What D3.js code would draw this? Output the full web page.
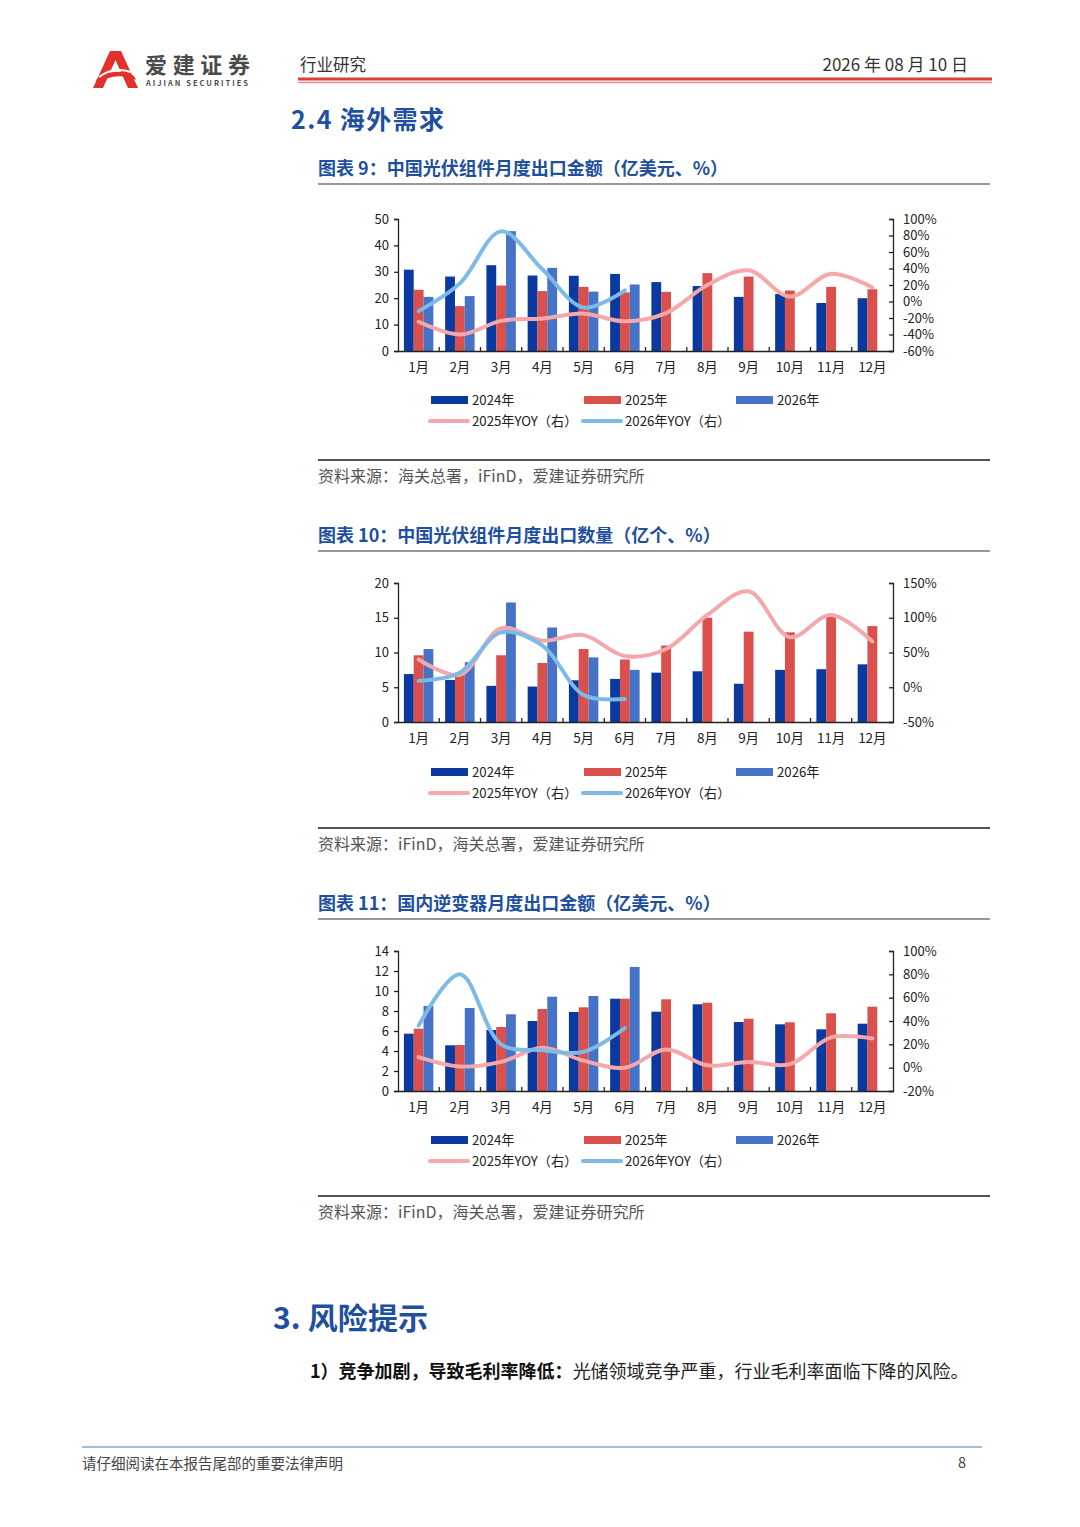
<!DOCTYPE html>
<html><head><meta charset="utf-8">
<script src="https://cdn.jsdelivr.net/npm/d3@7/dist/d3.min.js"></script>
<style>
html,body{margin:0;padding:0;background:#fff;}
svg{display:block;font-family:"Noto Sans CJK SC","Noto Sans",sans-serif;}
</style></head>
<body>
<svg id="page" width="1080" height="1527"></svg>
<script>
// ---------- DATA ----------
const months = ["1月","2月","3月","4月","5月","6月","7月","8月","9月","10月","11月","12月"];
const seriesNames = ["2024年","2025年","2026年"];
const lineNames = ["2025年YOY（右）","2026年YOY（右）"];

// Chart 9: module export value (亿美元)
const c9_2024 = [30.8, 28.2, 32.5, 28.6, 28.5, 29.2, 26.1, 24.6, 20.5, 21.6, 18.2, 20.0];
const c9_2025 = [23.2, 17.0, 24.8, 22.7, 24.3, 22.2, 22.4, 29.5, 28.2, 22.9, 24.3, 23.4];
const c9_2026 = [20.5, 20.8, 45.4, 31.5, 22.5, 25.2];
const c9_yoy25 = [-0.245, -0.40, -0.235, -0.205, -0.147, -0.24, -0.14, 0.20, 0.378, 0.06, 0.335, 0.17];
const c9_yoy26 = [-0.115, 0.22, 0.85, 0.39, -0.074, 0.135];
const c9_left = [0, 10, 20, 30, 40, 50];
const c9_right = [-0.6, -0.4, -0.2, 0, 0.2, 0.4, 0.6, 0.8, 1.0];

// Chart 10: module export quantity (亿个)
const c10_2024 = [6.9, 6.05, 5.2, 5.1, 6.0, 6.2, 7.1, 7.3, 5.5, 7.5, 7.6, 8.3];
const c10_2025 = [9.6, 7.1, 9.6, 8.5, 10.5, 9.0, 11.0, 15.0, 13.0, 12.9, 15.5, 13.8];
const c10_2026 = [10.5, 8.6, 17.2, 13.6, 9.3, 7.5];
const c10_yoy25 = [0.40, 0.18, 0.85, 0.67, 0.75, 0.45, 0.55, 1.04, 1.38, 0.72, 1.04, 0.66];
const c10_yoy26 = [0.09, 0.21, 0.79, 0.60, -0.11, -0.17];
const c10_left = [0, 5, 10, 15, 20];
const c10_right = [-0.5, 0, 0.5, 1.0, 1.5];

// Chart 11: inverter export value (亿美元)
const c11_2024 = [5.73, 4.57, 6.1, 7.0, 7.9, 9.23, 7.93, 8.67, 6.9, 6.67, 6.17, 6.73];
const c11_2025 = [6.23, 4.6, 6.4, 8.2, 8.37, 9.23, 9.17, 8.83, 7.23, 6.87, 7.77, 8.43];
const c11_2026 = [8.5, 8.3, 7.67, 9.43, 9.5, 12.4];
const c11_yoy25 = [0.09, 0.01, 0.05, 0.17, 0.06, 0.0, 0.156, 0.02, 0.048, 0.03, 0.26, 0.25];
const c11_yoy26 = [0.36, 0.80, 0.20, 0.15, 0.135, 0.34];
const c11_left = [0, 2, 4, 6, 8, 10, 12, 14];
const c11_right = [-0.2, 0, 0.2, 0.4, 0.6, 0.8, 1.0];

// ---------- STYLE ----------
const COL = {c24:"#0a3aa0", c25:"#d9504c", c26:"#4673c6", y25:"#f4a8aa", y26:"#7dbae8"};
const TITLE_BLUE = "#1f4f9f";
const svg = d3.select("#page");

// ---------- HEADER ----------
const logo = svg.append("g");
logo.append("path")
  .attr("d","M93,88 L110,51 L121,51 L138,88 L128,88 L115.5,60 L103,88 Z")
  .attr("fill","#e0322b");
logo.append("path")
  .attr("d","M96,80 Q112,66 134,76 L136,80 Q114,71 98,84 Z")
  .attr("fill","#e0322b");
logo.append("path")
  .attr("d","M99,77 Q113,66 131,72")
  .attr("fill","none").attr("stroke","#fff").attr("stroke-width",2);
svg.append("text").attr("x",145).attr("y",73).attr("font-size",22).attr("font-weight",700)
  .attr("fill","#4a4a4a").attr("textLength",105).text("爱建证券");
svg.append("text").attr("x",146).attr("y",86).attr("font-size",7.5).attr("font-weight",700)
  .attr("fill","#4a4a4a").attr("textLength",102).text("AIJIAN SECURITIES");
svg.append("text").attr("x",300).attr("y",71).attr("font-size",16.5).attr("fill","#333").text("行业研究");
svg.append("text").attr("x",968).attr("y",71).attr("font-size",17).attr("fill","#333")
  .attr("text-anchor","end").text("2026 年 08 月 10 日");
svg.append("line").attr("x1",298).attr("x2",992).attr("y1",79).attr("y2",79)
  .attr("stroke","#d9403c").attr("stroke-width",3);
svg.append("line").attr("x1",298).attr("x2",992).attr("y1",82.5).attr("y2",82.5)
  .attr("stroke","#e98a86").attr("stroke-width",1.5);

svg.append("text").attr("x",291).attr("y",129).attr("font-size",25).attr("font-weight",700)
  .attr("fill",TITLE_BLUE).attr("textLength",153).text("2.4  海外需求");

// ---------- CHART FUNCTION ----------
function drawChart(cfg){
  const g = svg.append("g");
  // title
  g.append("text").attr("x",318).attr("y",cfg.titleY).attr("font-size",18).attr("font-weight",700)
    .attr("fill",TITLE_BLUE).text(cfg.title);
  g.append("line").attr("x1",318).attr("x2",990).attr("y1",cfg.titleY+9).attr("y2",cfg.titleY+9)
    .attr("stroke","#333").attr("stroke-width",1.2);

  const x = d3.scaleBand().domain(months).range([398, 893]).paddingInner(0).paddingOuter(0);
  const xs = d3.scaleBand().domain(["a","b","c"]).range([0, x.bandwidth()]).paddingInner(0).paddingOuter(0.6);
  const yL = d3.scaleLinear().domain([cfg.leftTicks[0], cfg.leftTicks[cfg.leftTicks.length-1]]).range([cfg.yBot, cfg.yTop]);
  const yR = d3.scaleLinear().domain([cfg.rightTicks[0], cfg.rightTicks[cfg.rightTicks.length-1]]).range([cfg.yBot, cfg.yTop]);

  // bars
  const sets = [[cfg.d24,"a",COL.c24],[cfg.d25,"b",COL.c25],[cfg.d26,"c",COL.c26]];
  sets.forEach(([arr,key,col])=>{
    g.append("g").selectAll("rect").data(arr).join("rect")
      .attr("x",(d,i)=>x(months[i])+xs(key))
      .attr("width",xs.bandwidth())
      .attr("y",d=>yL(d))
      .attr("height",d=>yL(0)-yL(d))
      .attr("fill",col);
  });

  // axes
  const axL = d3.axisLeft(yL).tickValues(cfg.leftTicks).tickSize(4).tickPadding(5).tickFormat(d3.format("d"));
  const gl = g.append("g").attr("transform","translate(398,0)").call(axL);
  const axR = d3.axisRight(yR).tickValues(cfg.rightTicks).tickSize(-4).tickPadding(10)
    .tickFormat(d=>Math.round(d*100)+"%");
  const gr = g.append("g").attr("transform","translate(893,0)").call(axR);
  [gl,gr].forEach(a=>{
    a.select(".domain").attr("stroke","#222").attr("stroke-width",1.3);
    a.selectAll(".tick line").attr("stroke","#222").attr("stroke-width",1.3);
    a.selectAll(".tick text").attr("font-size",13).attr("fill","#222")
      .attr("font-family","'Noto Sans CJK SC','Noto Sans',sans-serif");
  });
  // x axis baseline
  const axB = d3.axisBottom(x).tickSize(0).tickPadding(11);
  const gb = g.append("g").attr("transform",`translate(0,${cfg.yBot})`).call(axB);
  gb.select(".domain").attr("stroke","#222").attr("stroke-width",1.3);
  gb.selectAll(".tick text").attr("font-size",13.5).attr("fill","#222")
    .attr("font-family","'Noto Sans CJK SC','Noto Sans',sans-serif");
  // category separators (inward ticks)
  g.append("g").selectAll("line").data(months.slice(1)).join("line")
    .attr("x1",d=>x(d)).attr("x2",d=>x(d))
    .attr("y1",cfg.yBot).attr("y2",cfg.yBot-4)
    .attr("stroke","#222").attr("stroke-width",1.3);

  // lines
  const line = d3.line().x((d,i)=>x(months[i])+x.bandwidth()/2).y(d=>yR(d)).curve(d3.curveCatmullRom.alpha(0.5));
  g.append("path").attr("d",line(cfg.y25)).attr("fill","none").attr("stroke",COL.y25)
    .attr("stroke-width",4).attr("stroke-linecap","round").attr("stroke-linejoin","round");
  g.append("path").attr("d",line(cfg.y26)).attr("fill","none").attr("stroke",COL.y26)
    .attr("stroke-width",4).attr("stroke-linecap","round").attr("stroke-linejoin","round");

  // legend
  const L1 = cfg.legY, L2 = cfg.legY + 21;
  const legBars = [[431,seriesNames[0],COL.c24],[584,seriesNames[1],COL.c25],[736,seriesNames[2],COL.c26]];
  legBars.forEach(([lx,t,c])=>{
    g.append("rect").attr("x",lx).attr("y",L1-4).attr("width",37).attr("height",8).attr("fill",c);
    g.append("text").attr("x",lx+41).attr("y",L1+4.5).attr("font-size",13.2).attr("fill","#222").text(t);
  });
  const legLines = [[430,lineNames[0],COL.y25],[583,lineNames[1],COL.y26]];
  legLines.forEach(([lx,t,c])=>{
    g.append("line").attr("x1",lx).attr("x2",lx+38).attr("y1",L2).attr("y2",L2)
      .attr("stroke",c).attr("stroke-width",4).attr("stroke-linecap","round");
    g.append("text").attr("x",lx+42).attr("y",L2+4.5).attr("font-size",13.2).attr("fill","#222").text(t);
  });

  // source
  g.append("line").attr("x1",318).attr("x2",990).attr("y1",cfg.srcLineY).attr("y2",cfg.srcLineY)
    .attr("stroke","#555").attr("stroke-width",1.8);
  g.append("text").attr("x",318).attr("y",cfg.srcLineY+22).attr("font-size",16).attr("fill","#555").text(cfg.source);
}

drawChart({
  title:"图表 9：中国光伏组件月度出口金额（亿美元、%）", titleY:175,
  yTop:219, yBot:351, leftTicks:c9_left, rightTicks:c9_right,
  d24:c9_2024, d25:c9_2025, d26:c9_2026, y25:c9_yoy25, y26:c9_yoy26,
  legY:400, srcLineY:460, source:"资料来源：海关总署，iFinD，爱建证券研究所"
});
drawChart({
  title:"图表 10：中国光伏组件月度出口数量（亿个、%）", titleY:542,
  yTop:583, yBot:722, leftTicks:c10_left, rightTicks:c10_right,
  d24:c10_2024, d25:c10_2025, d26:c10_2026, y25:c10_yoy25, y26:c10_yoy26,
  legY:772, srcLineY:828, source:"资料来源：iFinD，海关总署，爱建证券研究所"
});
drawChart({
  title:"图表 11：国内逆变器月度出口金额（亿美元、%）", titleY:910,
  yTop:951, yBot:1091, leftTicks:c11_left, rightTicks:c11_right,
  d24:c11_2024, d25:c11_2025, d26:c11_2026, y25:c11_yoy25, y26:c11_yoy26,
  legY:1140, srcLineY:1196, source:"资料来源：iFinD，海关总署，爱建证券研究所"
});

// ---------- SECTION 3 ----------
svg.append("text").attr("x",273).attr("y",1329).attr("font-size",30).attr("font-weight",700)
  .attr("fill",TITLE_BLUE).attr("textLength",155).text("3.  风险提示");
const para = svg.append("text").attr("x",310).attr("y",1378).attr("font-size",18).attr("fill","#222");
para.append("tspan").attr("font-weight",700).attr("fill","#111").text("1）竞争加剧，导致毛利率降低：");
para.append("tspan").text("光储领域竞争严重，行业毛利率面临下降的风险。");

// ---------- FOOTER ----------
svg.append("line").attr("x1",82).attr("x2",982).attr("y1",1447).attr("y2",1447)
  .attr("stroke","#4f7fb3").attr("stroke-width",1.2);
svg.append("text").attr("x",82).attr("y",1469).attr("font-size",14.5).attr("fill","#444").text("请仔细阅读在本报告尾部的重要法律声明");
svg.append("text").attr("x",966).attr("y",1468).attr("font-size",14.5).attr("fill","#444").attr("text-anchor","end").text("8");
</script>
</body></html>
